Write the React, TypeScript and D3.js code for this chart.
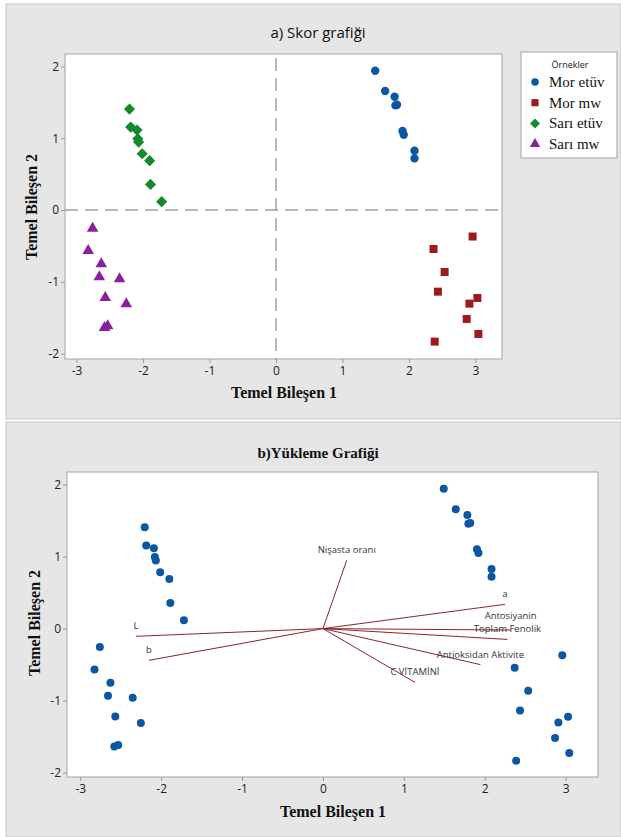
import React, { useRef, useEffect } from 'react';
import * as d3 from 'd3';

// score data per group (PC1, PC2)
const groups = ["Mor etüv", "Mor mw", "Sarı etüv", "Sarı mw"];
const groupColors = ["#0b57a4", "#9a1a1f", "#138a2c", "#8a1fa0"];
const groupSymbols = [d3.symbolCircle, d3.symbolSquare, d3.symbolDiamond2 || d3.symbolDiamond, d3.symbolTriangle];

const morEtuvX = [1.493, 1.642, 1.785, 1.797, 1.821, 1.904, 1.922, 2.084, 2.084];
const morEtuvY = [1.940, 1.657, 1.578, 1.457, 1.466, 1.100, 1.049, 0.826, 0.719];
const morMwX = [2.958, 2.370, 2.537, 2.436, 3.030, 2.910, 2.869, 3.045, 2.388];
const morMwY = [-0.369, -0.543, -0.863, -1.137, -1.225, -1.304, -1.517, -1.726, -1.833];
const sariEtuvX = [-2.203, -2.185, -2.090, -2.078, -2.066, -2.012, -1.899, -1.887, -1.719];
const sariEtuvY = [1.406, 1.155, 1.114, 0.993, 0.947, 0.784, 0.687, 0.357, 0.116];
const sariMwX = [-2.758, -2.824, -2.627, -2.657, -2.352, -2.567, -2.251, -2.579, -2.531];
const sariMwY = [-0.255, -0.566, -0.752, -0.933, -0.961, -1.220, -1.309, -1.638, -1.615];

const groupX = [morEtuvX, morMwX, sariEtuvX, sariMwX];
const groupY = [morEtuvY, morMwY, sariEtuvY, sariMwY];

// loading vectors
const loadingNames = ["Nişasta oranı", "a", "Antosiyanin", "Toplam Fenolik", "Antioksidan Aktivite", "C VİTAMİNİ", "L", "b"];
const loadingX = [0.294, 2.25, 2.32, 2.28, 1.946, 1.137, -2.31, -2.15];
const loadingY = [0.95, 0.337, -0.02, -0.15, -0.5, -0.746, -0.107, -0.44];

const ticksX = [-3, -2, -1, 0, 1, 2, 3];
const ticksY = [-2, -1, 0, 1, 2];

const W = 621, H = 837;
const SANS = "'Open Sans', 'Noto Sans', sans-serif";
const SERIF = "'Liberation Serif', 'Times New Roman', serif";

const App = () => {
    const ref = useRef(null);
    useEffect(() => {
        const svg = d3.select(ref.current);
        svg.selectAll("*").remove();

        const points = groups.flatMap((g, gi) => groupX[gi].map((x, i) => ({ g: gi, x, y: groupY[gi][i] })));

        // panel backgrounds
        svg.append("rect").attr("x", 6).attr("y", 4).attr("width", W - 6).attr("height", 415)
            .attr("fill", "#e6e6e6").attr("stroke", "#c8c8c8");
        svg.append("rect").attr("x", 6).attr("y", 422).attr("width", W - 6).attr("height", H - 422)
            .attr("fill", "#e6e6e6").attr("stroke", "#c8c8c8");

        const drawAxes = (g, x, y, x0, x1, y0, y1) => {
            g.append("rect").attr("x", x0).attr("y", y0).attr("width", x1 - x0).attr("height", y1 - y0)
                .attr("fill", "#fff").attr("stroke", "#a3a3a3");
            const xa = g.append("g").attr("transform", `translate(0,${y1})`)
                .call(d3.axisBottom(x).tickValues(ticksX).tickFormat(d => String(d)).tickSize(4).tickPadding(3));
            const ya = g.append("g").attr("transform", `translate(${x0},0)`)
                .call(d3.axisLeft(y).tickValues(ticksY).tickFormat(d => String(d)).tickSize(4).tickPadding(2));
            [xa, ya].forEach(a => {
                a.select(".domain").remove();
                a.selectAll("line").attr("stroke", "#999");
                a.selectAll("text").attr("font-family", SANS).attr("font-size", 12).attr("fill", "#222");
            });
        };

        // ---- a) score plot
        const xa = d3.scaleLinear().domain([-3.173, 3.4]).range([65, 502]);
        const ya = d3.scaleLinear().domain([-2.075, 2.173]).range([359, 54]);
        const ga = svg.append("g");
        drawAxes(ga, xa, ya, 65, 502, 54, 359);

        ga.append("line").attr("x1", xa(0)).attr("x2", xa(0)).attr("y1", 58).attr("y2", 359)
            .attr("stroke", "#a0a0a0").attr("stroke-width", 1.5).attr("stroke-dasharray", "13,7");
        ga.append("line").attr("x1", 65).attr("x2", 500).attr("y1", ya(0)).attr("y2", ya(0))
            .attr("stroke", "#a0a0a0").attr("stroke-width", 1.5).attr("stroke-dasharray", "13,7");

        const sizes = [55, 64, 80, 58];
        ga.append("g").selectAll("path").data(points).join("path")
            .attr("transform", d => `translate(${xa(d.x)},${ya(d.y)})`)
            .attr("d", d => d3.symbol(groupSymbols[d.g], sizes[d.g])())
            .attr("fill", d => groupColors[d.g]);

        ga.append("text").attr("x", 318).attr("y", 38).attr("text-anchor", "middle")
            .attr("font-family", SANS).attr("font-size", 15).attr("fill", "#111").text("a) Skor grafiği");
        ga.append("text").attr("x", 284).attr("y", 398).attr("text-anchor", "middle")
            .attr("font-family", SERIF).attr("font-weight", "bold").attr("font-size", 16).attr("fill", "#111")
            .text("Temel Bileşen 1");
        ga.append("text").attr("transform", "translate(37,207) rotate(-90)").attr("text-anchor", "middle")
            .attr("font-family", SERIF).attr("font-weight", "bold").attr("font-size", 16).attr("fill", "#111")
            .text("Temel Bileşen 2");

        // legend
        const lg = ga.append("g");
        lg.append("rect").attr("x", 521).attr("y", 52).attr("width", 96).attr("height", 106)
            .attr("fill", "#fff").attr("stroke", "#a3a3a3");
        lg.append("text").attr("x", 570).attr("y", 68).attr("text-anchor", "middle")
            .attr("font-family", SANS).attr("font-size", 9).attr("fill", "#222").text("Örnekler");
        groups.forEach((name, i) => {
            const cy = 82 + i * 20.7;
            lg.append("path").attr("transform", `translate(535,${cy})`)
                .attr("d", d3.symbol(groupSymbols[i], sizes[i] * 0.8)()).attr("fill", groupColors[i]);
            lg.append("text").attr("x", 549).attr("y", cy + 5).attr("font-family", SERIF)
                .attr("font-size", 15).attr("fill", "#111").text(name);
        });

        // ---- b) loading plot
        const xb = d3.scaleLinear().domain([-3.164, 3.4]).range([67, 598]);
        const yb = d3.scaleLinear().domain([-2.06, 2.174]).range([777, 472]);
        const gb = svg.append("g");
        drawAxes(gb, xb, yb, 67, 598, 472, 777);

        gb.append("g").selectAll("circle").data(points).join("circle")
            .attr("cx", d => xb(d.x)).attr("cy", d => yb(d.y)).attr("r", 4)
            .attr("fill", groupColors[0]);

        gb.append("g").selectAll("line").data(loadingNames).join("line")
            .attr("x1", xb(0)).attr("y1", yb(0))
            .attr("x2", (d, i) => xb(loadingX[i])).attr("y2", (d, i) => yb(loadingY[i]))
            .attr("stroke", "#8a2528").attr("stroke-width", 1);

        // label above each vector end; nudge apart labels that sit on top of each other
        const gap = 13.5;
        const labelY = loadingNames.map((d, i) => yb(loadingY[i]) - 7);
        loadingNames.forEach((d, i) => {
            loadingNames.forEach((e, j) => {
                if (j > i && Math.abs(xb(loadingX[i]) - xb(loadingX[j])) < 30 && Math.abs(labelY[i] - labelY[j]) < gap) {
                    const up = labelY[i] < labelY[j] ? i : j;
                    labelY[up] -= gap - Math.abs(labelY[i] - labelY[j]);
                }
            });
        });
        gb.append("g").selectAll("text").data(loadingNames).join("text")
            .attr("x", (d, i) => xb(loadingX[i])).attr("y", (d, i) => labelY[i])
            .attr("text-anchor", "middle").attr("font-family", SANS).attr("font-size", 9.5)
            .attr("fill", "#333").text(d => d);

        gb.append("text").attr("x", 318).attr("y", 458).attr("text-anchor", "middle")
            .attr("font-family", SERIF).attr("font-weight", "bold").attr("font-size", 15).attr("fill", "#111")
            .text("b)Yükleme Grafiği");
        gb.append("text").attr("x", 333).attr("y", 817).attr("text-anchor", "middle")
            .attr("font-family", SERIF).attr("font-weight", "bold").attr("font-size", 16).attr("fill", "#111")
            .text("Temel Bileşen 1");
        gb.append("text").attr("transform", "translate(40,623) rotate(-90)").attr("text-anchor", "middle")
            .attr("font-family", SERIF).attr("font-weight", "bold").attr("font-size", 16).attr("fill", "#111")
            .text("Temel Bileşen 2");
    }, []);

    return (
        <div style={{ position: "absolute", left: 0, top: 0 }}>
            <svg ref={ref} width={W} height={H} style={{ display: "block", background: "#fff" }} />
        </div>
    );
};

export default App;
